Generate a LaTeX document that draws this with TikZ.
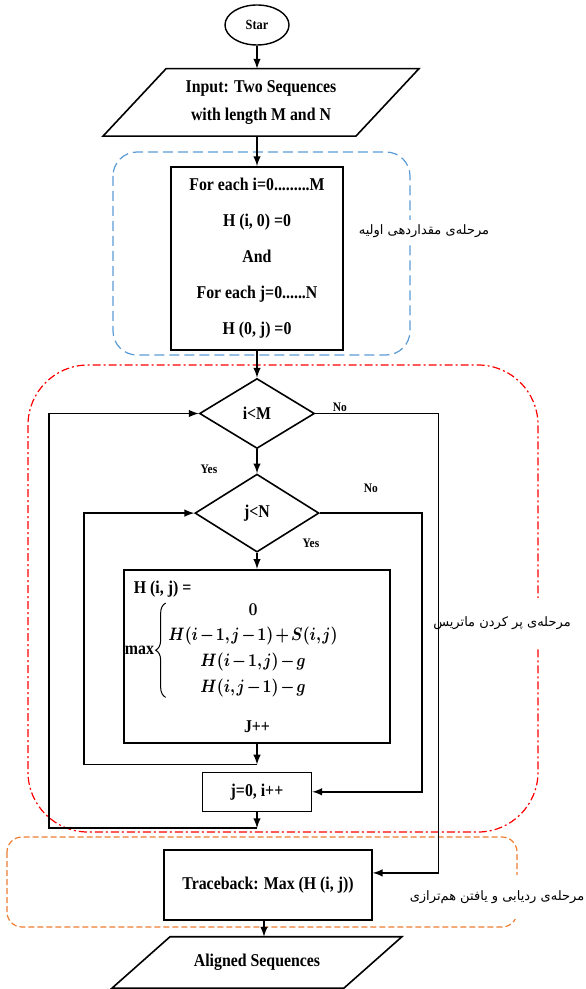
\documentclass[tikz,border=0pt]{standalone}
\usepackage{amsmath}
\usepackage{graphicx}
\usepackage{fontspec}
\setmainfont{Liberation Serif}[FakeStretch=0.88]
\newfontfamily\farsi[Script=Arabic]{DejaVu Sans}
\TeXXeTstate=1
\usetikzlibrary{shapes.geometric, positioning, arrows, decorations.pathreplacing}

\definecolor{stageblue}{RGB}{91,155,213}
\definecolor{stagered}{RGB}{255,0,0}
\definecolor{stageorange}{RGB}{237,125,49}

\newcommand{\narrowmath}[1]{\scalebox{0.84}[1]{$\medmuskip=2mu\thinmuskip=1.5mu \boldsymbol{#1}$}}

\tikzset{
	startend/.style={ellipse, draw, line width=0.7pt, minimum width=32pt, minimum height=20pt, inner sep=0pt, font=\fontsize{7}{8}\selectfont\bfseries},
	io/.style={rectangle, inner sep=0pt, align=center, font=\fontsize{9}{14}\selectfont\bfseries},
	ioline/.style={line width=0.8pt},
	process/.style={rectangle, draw, line width=0.8pt, inner sep=0pt, align=center, font=\fontsize{9}{18}\selectfont\bfseries},
	decision/.style={diamond, draw, line width=0.8pt, inner sep=0pt, font=\fontsize{9}{11}\selectfont\bfseries},
	celltext/.style={inner sep=0pt, font=\fontsize{9}{11}\selectfont\bfseries},
	yesno/.style={inner sep=0pt, font=\fontsize{6.5}{7}\selectfont\bfseries},
	stage/.style={fill=white, inner sep=2pt, font=\farsi\fontsize{6.5}{8}\selectfont},
	frame/.style={line width=0.6pt}
}

\begin{document}
\begin{tikzpicture}[x=1pt, y=1pt, >=latex, line width=0.7pt]
			\useasboundingbox (0,0) rectangle (292.5,-494.5);
			\draw[frame, stageblue, dash pattern=on 5pt off 2.5pt, rounded corners=12pt] (56.5,-76) rectangle (205,-177.5);
			\draw[frame, stagered, dash pattern=on 4pt off 1.5pt on 1pt off 1.5pt, rounded corners=30pt] (14,-182.5) rectangle (269,-416);
			\draw[frame, stageorange, dash pattern=on 3pt off 1.5pt, rounded corners=7.5pt] (3.5,-418.5) rectangle (258.5,-463.5);
			\node[stage] (initlbl) at (212,-115.5) {\beginR مرحله‌ی مقداردهی اولیه\endR};
			\node[stage, minimum height=25pt] (filllbl) at (251,-311.5) {\beginR مرحله‌ی پر کردن ماتریس\endR};
			\node[stage, minimum height=22pt] (tracelbl) at (248.5,-448.5) {\beginR مرحله‌ی ردیابی و یافتن هم‌ترازی\endR};

			\node[startend] (start) at (128.5,-12.5) {Star};
			\node[io, minimum width=125.75pt, minimum height=33pt, below=11.5pt of start, xshift=2pt] (input) {Input: Two Sequences\\with length M and N};
			\draw[ioline] ([xshift=-15.75pt]input.south west) -- ([xshift=15.75pt]input.north west) -- ([xshift=15.75pt]input.north east) -- ([xshift=-15.75pt]input.south east) -- cycle;
			\node[process, minimum width=86pt, minimum height=91.5pt, below=15pt of input, xshift=-2pt] (init) {For each i=0.........M\\H (i, 0) =0\\And\\For each j=0......N\\H (0, j) =0};
			\node[decision, minimum width=57.5pt, minimum height=35pt, below=13.5pt of init] (iM) {i<M};
			\node[decision, minimum width=62pt, minimum height=39pt, below=12pt of iM] (jN) {j<N};
			\node[process, minimum width=133pt, minimum height=86.5pt, below=8pt of jN] (cell) {};
			\node[celltext, anchor=west] (hij) at ([shift={(5pt,-10pt)}]cell.north west) {H (i, j) =};
			\node[celltext, align=center, font=\fontsize{9}{12.8}\selectfont] (rows) at ([shift={(-2pt,3pt)}]cell.center) {\narrowmath{0}\\\narrowmath{H(i-1,j-1)+S(i,j)}\\\narrowmath{H(i-1,j)-g}\\\narrowmath{H(i,j-1)-g}};
			\draw[line width=0.5pt, decorate, decoration={brace, amplitude=5pt}] ([xshift=-1pt]rows.south west) -- ([xshift=-1pt]rows.north west);
			\node[celltext, anchor=east] (maxlbl) at ([xshift=-6.5pt]rows.west) {max};
			\node[celltext] (jpp) at ([yshift=8.5pt]cell.south) {J++};
			\node[process, minimum width=54.5pt, minimum height=19.5pt, below=14pt of cell] (next) {j=0, i++};
			\node[process, minimum width=104pt, minimum height=35pt, below=18.5pt of next, xshift=5.5pt] (trace) {Traceback: Max (H (i, j))};
			\node[io, minimum width=115.25pt, minimum height=25pt, below=8pt of trace, xshift=-5.5pt] (out) {Aligned Sequences};
			\draw[ioline] ([xshift=-14.5pt]out.south west) -- ([xshift=14.5pt]out.north west) -- ([xshift=14.5pt]out.north east) -- ([xshift=-14.5pt]out.south east) -- cycle;

			\draw[->] (start) -- (start |- input.north);
			\draw[->] (init |- input.south) -- (init);
			\draw[->] (init) -- (iM);
			\draw[->] (iM) -- node[yesno, xshift=-24pt, yshift=-4pt] {Yes} (jN);
			\draw[->] (jN) -- node[yesno, pos=0, xshift=27pt, yshift=5pt] {Yes} (cell);
			\draw[->] (iM.east) -- node[yesno, pos=0.2, above=0.5pt] {No} ++(61.5,0) |- ([yshift=6pt]trace.east);
			\draw[->] (jN.east) -- node[yesno, above=10pt] {No} ++(51,0) |- (next.east);
			\draw[->] (cell.south) -- ++(0,-10.5) coordinate (jloop);
			\draw[->] (jloop) -- ++(-86.5,0) |- (jN.west);
			\draw[->] (next.south) -- ++(0,-8) coordinate (iloop);
			\draw[->] (iloop) -- ++(-104,0) |- (iM.west);
			\draw[->] ([xshift=-2pt]trace.south) -- ([xshift=-2pt]trace.south |- out.north);
		\end{tikzpicture}
\end{document}
